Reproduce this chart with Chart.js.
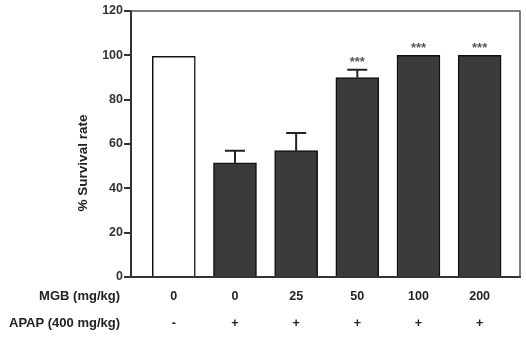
<!DOCTYPE html>
<html>
<head>
<meta charset="utf-8">
<script src="https://cdn.jsdelivr.net/npm/chart.js@4"></script>
<style>
  html, body { margin: 0; padding: 0; background: #fff; }
  canvas { display: block; }
</style>
</head>
<body>
<canvas id="survivalChart" width="526" height="342"></canvas>
<script>
// doses and values
const mgbDoses = ['0', '0', '25', '50', '100', '200'];
const apapGiven = ['-', '+', '+', '+', '+', '+'];
const survival = [99.5, 51.5, 57, 90, 100, 100];
const survivalErr = [0, 5.5, 8, 3.5, 0, 0];
const significance = ['', '', '', '***', '***', '***'];
const yTicks = [0, 20, 40, 60, 80, 100, 120];

const barFills = ['#ffffff', '#3b3b3b', '#3b3b3b', '#3b3b3b', '#3b3b3b', '#3b3b3b'];
const fontFamily = '"Liberation Sans", Arial, sans-serif';
const labelFont = 'bold 13px ' + fontFamily;

const errorBars = {
    id: 'errorBars',
    afterDatasetsDraw(chart) {
        const ctx = chart.ctx;
        const y = chart.scales.y;
        const bars = chart.getDatasetMeta(0).data;
        ctx.save();
        bars.forEach((bar, i) => {
            const topVal = survival[i] + survivalErr[i];
            const yTop = y.getPixelForValue(topVal);
            if (survivalErr[i] > 0) {
                ctx.strokeStyle = '#222';
                ctx.lineWidth = 2;
                ctx.beginPath();
                ctx.moveTo(bar.x, y.getPixelForValue(survival[i]));
                ctx.lineTo(bar.x, yTop);
                ctx.moveTo(bar.x - 10, yTop);
                ctx.lineTo(bar.x + 10, yTop);
                ctx.stroke();
            }
            if (significance[i]) {
                ctx.fillStyle = '#555';
                ctx.font = 'bold 13px ' + fontFamily;
                ctx.textAlign = 'center';
                ctx.textBaseline = 'middle';
                ctx.fillText(significance[i], bar.x, yTop - 7);
            }
        });
        ctx.restore();
    }
};

const frameAndLabels = {
    id: 'frameAndLabels',
    afterDraw(chart) {
        const ctx = chart.ctx;
        const a = chart.chartArea;
        ctx.save();
        // top and right frame
        ctx.strokeStyle = '#555';
        ctx.lineWidth = 1.5;
        ctx.beginPath();
        ctx.moveTo(a.left, a.top);
        ctx.lineTo(a.right, a.top);
        ctx.lineTo(a.right, a.bottom);
        ctx.stroke();

        // row labels
        ctx.fillStyle = '#222';
        ctx.font = labelFont;
        ctx.textAlign = 'right';
        ctx.textBaseline = 'middle';
        ctx.fillText('MGB (mg/kg)', 120, 296);
        ctx.fillText('APAP (400 mg/kg)', 120, 323);

        // y title
        ctx.translate(83, 163);
        ctx.rotate(-Math.PI / 2);
        ctx.textAlign = 'center';
        ctx.font = 'bold 13.5px ' + fontFamily;
        ctx.fillText('% Survival rate', 0, 0);
        ctx.restore();
    }
};

new Chart(document.getElementById('survivalChart'), {
    type: 'bar',
    data: {
        datasets: [{
            data: survival.map((v, i) => ({ x: i, y: v })),
            backgroundColor: barFills,
            borderColor: '#111',
            borderWidth: 1.5,
            barThickness: 43
        }]
    },
    options: {
        responsive: false,
        animation: false,
        layout: { padding: { top: 11, right: 6, left: 0, bottom: 0 } },
        plugins: {
            legend: { display: false },
            tooltip: { enabled: false }
        },
        scales: {
            x: {
                type: 'linear',
                offset: false,
                min: -0.7,
                max: 5.66,
                afterBuildTicks: scale => {
                    scale.ticks = mgbDoses.map((d, i) => ({ value: i }));
                },
                afterFit: scale => { scale.height = 65; },
                grid: { display: false },
                border: { display: true, color: '#333', width: 2 },
                ticks: {
                    autoSkip: false,
                    maxRotation: 0,
                    padding: -2,
                    color: '#222',
                    font: { family: fontFamily, size: 12.5, weight: 'bold', lineHeight: 2.15 },
                    callback: v => [mgbDoses[v], apapGiven[v]]
                }
            },
            y: {
                min: 0,
                max: 120,
                afterBuildTicks: scale => {
                    scale.ticks = yTicks.map(v => ({ value: v }));
                },
                afterFit: scale => { scale.width = 131; },
                grid: { drawOnChartArea: false, drawTicks: true, tickLength: 7, color: '#333', lineWidth: 2 },
                border: { display: true, color: '#333', width: 2 },
                ticks: {
                    padding: 1,
                    color: '#333',
                    font: { family: fontFamily, size: 12.5, weight: 'bold' }
                }
            }
        }
    },
    plugins: [errorBars, frameAndLabels]
});
</script>
</body>
</html>
